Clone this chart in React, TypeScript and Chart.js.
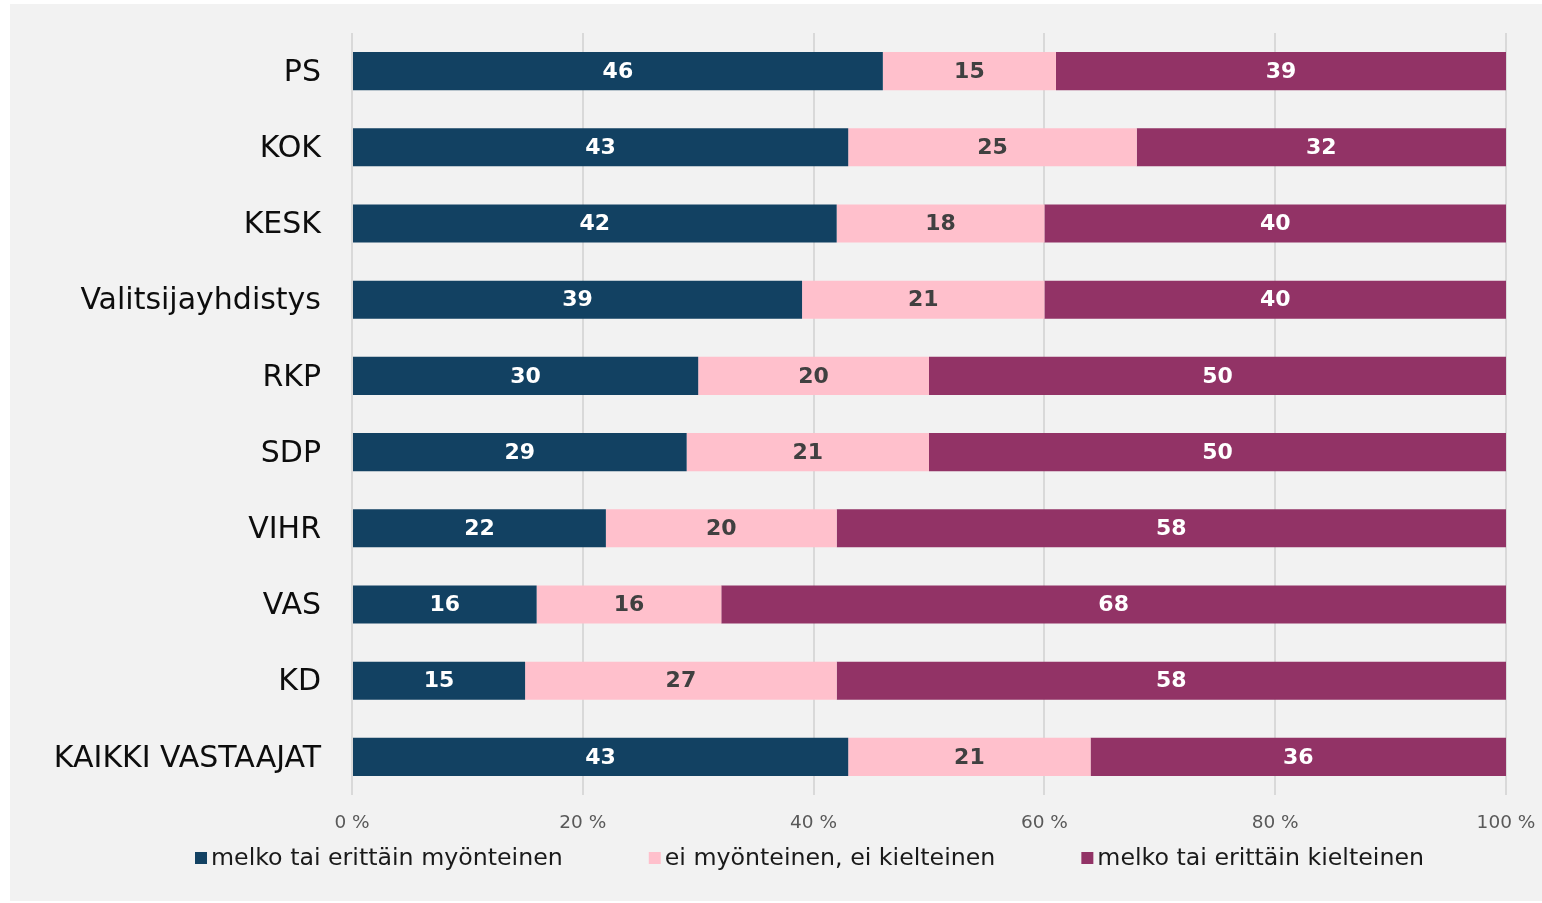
import { useEffect, useRef } from "react";
import { Chart, registerables } from "chart.js";

Chart.register(...registerables);

const categories = [
  "PS",
  "KOK",
  "KESK",
  "Valitsijayhdistys",
  "RKP",
  "SDP",
  "VIHR",
  "VAS",
  "KD",
  "KAIKKI VASTAAJAT",
];
const seriesNames = [
  "melko tai erittäin myönteinen",
  "ei myönteinen, ei kielteinen",
  "melko tai erittäin kielteinen",
];
const positive = [46, 43, 42, 39, 30, 29, 22, 16, 15, 43];
const neutral = [15, 25, 18, 21, 20, 21, 20, 16, 27, 21];
const negative = [39, 32, 40, 40, 50, 50, 58, 68, 58, 36];
const xTicks = [0, 20, 40, 60, 80, 100];

const barColors = ["#124162", "#ffc0cc", "#923366"];
const labelColors = ["#ffffff", "#404040", "#ffffff"];
const FONT = "'DejaVu Sans', sans-serif";

const valueLabels = {
  id: "valueLabels",
  afterDatasetsDraw(chart: any) {
    const ctx = chart.ctx;
    chart.data.datasets.forEach((ds: any, di: number) => {
      const meta = chart.getDatasetMeta(di);
      meta.data.forEach((bar: any, i: number) => {
        const v = ds.data[i];
        const p = bar.getProps(["x", "y", "base"], true);
        ctx.save();
        ctx.font = "bold 22px " + FONT;
        ctx.fillStyle = labelColors[di];
        ctx.textAlign = "center";
        ctx.textBaseline = "middle";
        ctx.fillText(String(v), (p.x + p.base) / 2, p.y + 1);
        ctx.restore();
      });
    });
  },
};

const customLegend = {
  id: "customLegend",
  afterDraw(chart: any) {
    const ctx = chart.ctx;
    ctx.save();
    ctx.font = "23.7px " + FONT;
    const box = 12;
    const gap = 4;
    const itemGap = 86;
    const items = chart.data.datasets.map((ds: any) => ({
      text: ds.label,
      color: ds.backgroundColor,
      w: ctx.measureText(ds.label).width,
    }));
    const total =
      items.reduce((s: number, it: any) => s + box + gap + it.w, 0) +
      itemGap * (items.length - 1);
    let x = 799.5 - total / 2;
    const y = chart.chartArea.bottom + 63;
    items.forEach((it: any) => {
      ctx.fillStyle = it.color;
      ctx.fillRect(x, y - box / 2, box, box);
      ctx.fillStyle = "#1a1a1a";
      ctx.textBaseline = "middle";
      ctx.textAlign = "left";
      ctx.fillText(it.text, x + box + gap, y + 1);
      x += box + gap + it.w + itemGap;
    });
    ctx.restore();
  },
};

export default function App() {
  const ref = useRef<HTMLCanvasElement | null>(null);
  useEffect(() => {
    if (!ref.current) return;
    const chart = new Chart(ref.current, {
      type: "bar",
      data: {
        labels: categories,
        datasets: [positive, neutral, negative].map((d, i) => ({
          label: seriesNames[i],
          data: d,
          backgroundColor: barColors[i],
          borderWidth: 0,
          categoryPercentage: 1,
          barPercentage: 0.5,
        })),
      },
      options: {
        indexAxis: "y",
        animation: false,
        responsive: true,
        maintainAspectRatio: false,
        layout: { padding: { left: 0, right: 36, top: 29, bottom: 64 } },
        plugins: {
          tooltip: { enabled: false },
          legend: { display: false },
        },
        scales: {
          x: {
            stacked: true,
            min: 0,
            max: 100,
            afterBuildTicks(axis: any) {
              axis.ticks = xTicks.map((v) => ({ value: v }));
            },
            afterFit(axis: any) {
              axis.height = 42;
              axis.paddingLeft = 0;
              axis.paddingRight = 0;
            },
            grid: { color: "#d9d9d9", lineWidth: 2, drawTicks: false },
            border: { display: false },
            ticks: {
              padding: 17,
              color: "#595959",
              font: { family: FONT, size: 18.5 },
              callback: (v: any) => v + " %",
            },
          },
          y: {
            stacked: true,
            afterFit(axis: any) {
              axis.width = 342;
              axis.paddingTop = 0;
              axis.paddingBottom = 0;
            },
            grid: { display: false, drawTicks: false },
            border: { display: false },
            ticks: {
              padding: 31,
              labelOffset: 2,
              color: "#0d0d0d",
              font: { family: FONT, size: 30 },
            },
          },
        },
      },
      plugins: [valueLabels, customLegend],
    });
    return () => chart.destroy();
  }, []);
  return (
    <div
      style={{
        position: "fixed",
        left: 10,
        top: 4,
        width: 1532,
        height: 897,
        background: "#f2f2f2",
      }}
    >
      <canvas ref={ref} />
    </div>
  );
}
